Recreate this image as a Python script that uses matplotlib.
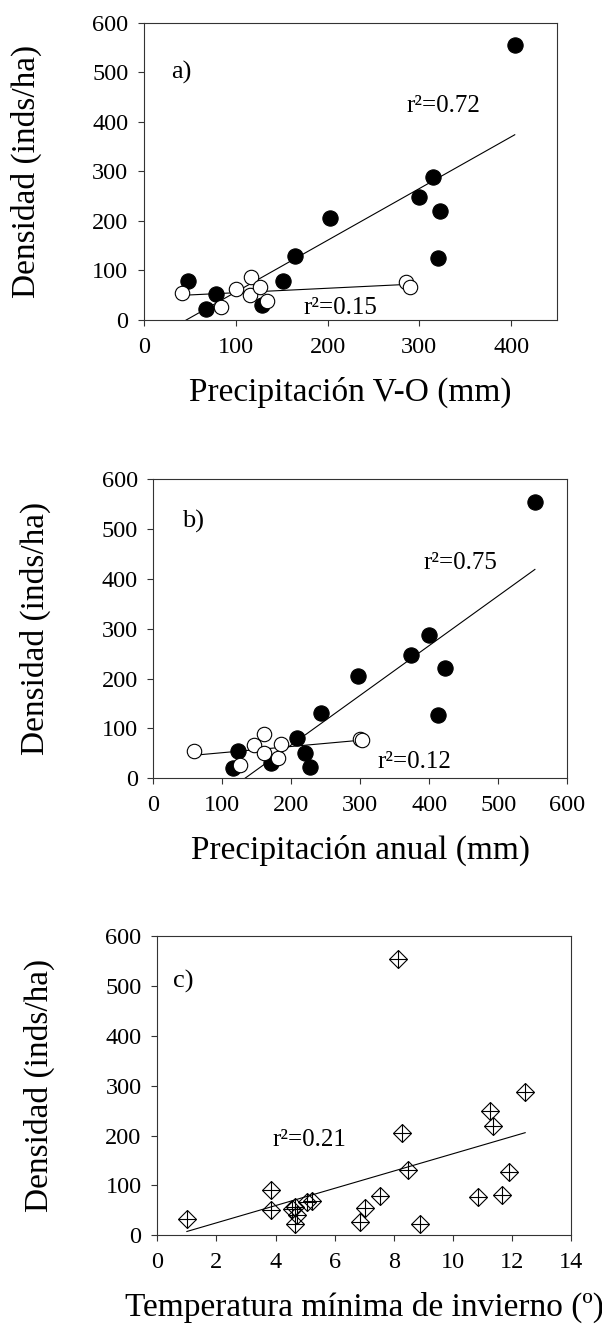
import matplotlib.pyplot as plt
import numpy as np

plt.rcParams['font.family'] = ['Liberation Serif', 'DejaVu Serif']

# Panel a) - Precipitación V-O (mm)
a_filled_x = [48, 68, 78, 129, 151, 164, 203, 300, 315, 323, 320, 404]
a_filled_y = [79, 22, 52, 30, 79, 130, 206, 249, 288, 220, 126, 555]
a_open_x = [41, 84, 100, 117, 116, 126, 134, 285, 290]
a_open_y = [55, 26, 63, 87, 50, 67, 39, 77, 66]

# Panel b) - Precipitación anual (mm)
b_filled_x = [115, 123, 170, 208, 220, 227, 243, 297, 374, 400, 423, 412, 553]
b_filled_y = [21, 55, 30, 80, 51, 23, 130, 206, 247, 288, 221, 127, 554]
b_open_x = [59, 125, 146, 161, 161, 180, 185, 300, 302]
b_open_y = [55, 27, 67, 89, 50, 40, 69, 79, 76]

# Panel c) - Temperatura mínima de invierno
c_x = [1.0, 3.83, 3.83, 4.55, 4.65, 4.71, 4.65, 5.05, 5.22, 6.85, 7.04, 7.52,
       8.14, 8.28, 8.48, 8.9, 10.84, 11.24, 11.35, 11.65, 11.89, 12.44]
c_y = [32, 90, 51, 52, 56, 41, 23, 67, 69, 27, 55, 79,
       553, 206, 131, 22, 77, 249, 219, 80, 127, 288]

y_label = 'Densidad (inds/ha)'
x_labels = ['Precipitación V-O (mm)', 'Precipitación anual (mm)',
            'Temperatura mínima de invierno (º)']


def main():

    fig = plt.figure(figsize=(6.02, 13.32), dpi=100)

    # Axes positions (left, bottom, width, height) in figure fraction
    ax_a = fig.add_axes([0.2392, 0.7598, 0.6860, 0.2232])
    ax_b = fig.add_axes([0.2547, 0.4157, 0.6877, 0.2245])
    ax_c = fig.add_axes([0.2613, 0.0726, 0.6877, 0.2247])

    # a)
    x_all = a_filled_x + a_open_x
    fit_line(ax_a, a_filled_x, a_filled_y, min(x_all), max(a_filled_x))
    fit_line(ax_a, a_open_x, a_open_y, min(a_open_x), max(a_open_x))
    ax_a.plot(a_filled_x, a_filled_y, 'o', ms=11, mfc='black', mec='black',
              mew=0.8, zorder=3)
    ax_a.plot(a_open_x, a_open_y, 'o', ms=10.4, mfc='white', mec='black',
              mew=0.8, zorder=4)
    style_axes(ax_a, (0, 450), np.arange(0, 401, 100), x_labels[0])
    ax_a.text(30, 500, 'a)', fontsize=19, va='center')
    ax_a.text(286, 432, 'r²=0.72', fontsize=18, va='center')
    ax_a.text(174, 24, 'r²=0.15', fontsize=18, va='center')

    # b)
    x_all = b_filled_x + b_open_x
    fit_line(ax_b, b_filled_x, b_filled_y, min(x_all), max(b_filled_x))
    fit_line(ax_b, b_open_x, b_open_y, min(b_open_x), max(b_open_x))
    ax_b.plot(b_filled_x, b_filled_y, 'o', ms=11, mfc='black', mec='black',
              mew=0.8, zorder=3)
    ax_b.plot(b_open_x, b_open_y, 'o', ms=10.4, mfc='white', mec='black',
              mew=0.8, zorder=4)
    style_axes(ax_b, (0, 600), np.arange(0, 601, 100), x_labels[1])
    ax_b.text(41, 515, 'b)', fontsize=19, va='center')
    ax_b.text(392, 431, 'r²=0.75', fontsize=18, va='center')
    ax_b.text(325, 33, 'r²=0.12', fontsize=18, va='center')

    # c)
    fit_line(ax_c, c_x, c_y, min(c_x), max(c_x))
    ax_c.plot(c_x, c_y, 'D', ms=9.2, mfc='none', mec='black', mew=0.8,
              zorder=3)
    ax_c.plot(c_x, c_y, '+', ms=12.8, color='black', mew=0.8, zorder=3)
    style_axes(ax_c, (0, 14), np.arange(0, 15, 2), x_labels[2])
    ax_c.text(0.52, 508, 'c)', fontsize=19, va='center')
    ax_c.text(3.9, 191, 'r²=0.21', fontsize=18, va='center')

    fig.savefig('out.png', dpi=100)
    plt.close()


def fit_line(ax, x, y, x_start, x_end):

    # Linear regression drawn across the given x range
    slope, intercept = np.polyfit(x, y, 1)
    xs = np.array([x_start, x_end])
    ax.plot(xs, slope * xs + intercept, color='black', lw=0.8, zorder=2)


def style_axes(ax, xlim, xticks, xlabel):

    ax.set_xlim(*xlim)
    ax.set_ylim(0, 600)
    ax.set_xticks(xticks)
    ax.set_yticks(np.arange(0, 601, 100))
    ax.tick_params(direction='out', length=4.3, width=0.8, labelsize=17.5,
                   color='#333333')
    ax.tick_params(axis='x', pad=8)
    ax.tick_params(axis='y', pad=7)
    for spine in ax.spines.values():
        spine.set_linewidth(0.8)
        spine.set_color('#333333')
    ax.set_ylabel(y_label, fontsize=24)
    ax.set_xlabel(xlabel, fontsize=24)
    ax.yaxis.set_label_coords(-0.247, 0.5)
    ax.xaxis.set_label_coords(0.5, -0.19)


if __name__ == "__main__":
    main()
